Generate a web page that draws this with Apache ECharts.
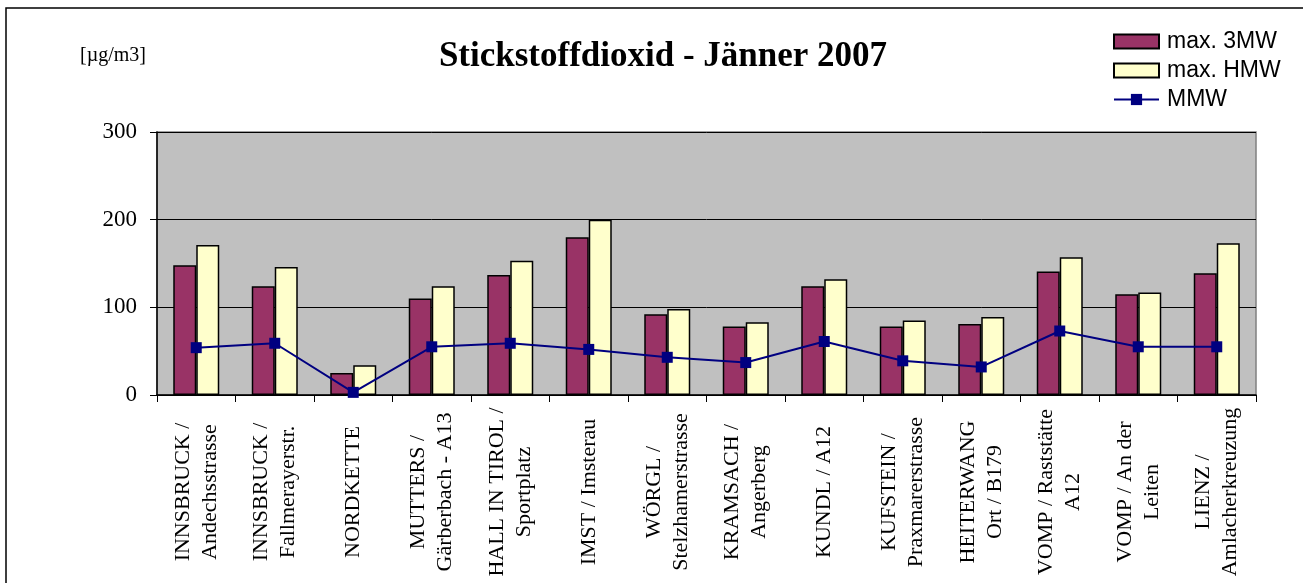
<!DOCTYPE html>
<html>
<head>
<meta charset="utf-8">
<script src="https://cdn.jsdelivr.net/npm/echarts@6/dist/echarts.min.js"></script>
<style>
  html, body { margin: 0; padding: 0; background: #fff; }
  #chart { width: 1303px; height: 583px; }
</style>
</head>
<body>
<div id="chart"></div>
<script>
const stations = [
  'INNSBRUCK /\nAndechsstrasse',
  'INNSBRUCK /\nFallmerayerstr.',
  'NORDKETTE',
  'MUTTERS /\nGärberbach - A13',
  'HALL IN TIROL /\nSportplatz',
  'IMST / Imsterau',
  'WÖRGL /\nStelzhamerstrasse',
  'KRAMSACH /\nAngerberg',
  'KUNDL / A12',
  'KUFSTEIN /\nPraxmarerstrasse',
  'HEITERWANG\nOrt / B179',
  'VOMP / Raststätte\nA12',
  'VOMP / An der\nLeiten',
  'LIENZ /\nAmlacherkreuzung'
]
const max3MW = [148, 124, 25, 110, 137, 180, 92, 78, 124, 78, 81, 141, 115, 139]
const maxHMW = [171, 146, 34, 124, 153, 200, 98, 83, 132, 85, 89, 157, 117, 173]
const mmw = [54, 59, 3, 55, 59, 52, 43, 37, 61, 39, 32, 73, 55, 55]
const yTicks = [0, 100, 200, 300]

const serif = '"Liberation Serif", "Times New Roman", serif'
const sans = '"Liberation Sans", Arial, sans-serif'

const chart = echarts.init(document.getElementById('chart'))
chart.setOption({
  animation: false,
  backgroundColor: '#fff',
  title: {
    text: 'Stickstoffdioxid - Jänner 2007',
    left: 658,
    top: 34,
    textAlign: 'center',
    textStyle: { fontFamily: serif, fontSize: 35, fontWeight: 'bold', color: '#000' }
  },
  legend: {
    orient: 'vertical',
    left: 1108,
    top: 25,
    itemWidth: 45,
    itemHeight: 14,
    itemGap: 6,
    textStyle: { fontFamily: sans, fontSize: 23, color: '#000', padding: [0, 0, 0, 3] },
    data: [
      { name: 'max. 3MW', icon: 'rect' },
      { name: 'max. HMW', icon: 'rect' },
      { name: 'MMW' }
    ]
  },
  graphic: [
    {
      type: 'rect',
      shape: { x: 6, y: 8, width: 1320, height: 600 },
      style: { fill: 'none', stroke: '#000', lineWidth: 1.5 },
      silent: true
    },
    {
      type: 'text',
      left: 80,
      top: 46,
      style: { text: '[µg/m3]', font: '20px ' + serif, fill: '#000' }
    }
  ],
  grid: {
    left: 157,
    right: 47,
    top: 132,
    bottom: 188,
    show: true,
    backgroundColor: '#c0c0c0',
    borderColor: '#808080',
    borderWidth: 1.5
  },
  xAxis: {
    type: 'category',
    data: stations,
    axisLine: { lineStyle: { color: '#000', width: 1.5 } },
    axisTick: { show: true, length: 7, lineStyle: { color: '#000' } },
    axisLabel: {
      rotate: 90,
      interval: 0,
      align: 'center',
      verticalAlign: 'middle',
      margin: 97,
      fontFamily: serif,
      fontSize: 22,
      lineHeight: 27,
      color: '#000'
    }
  },
  yAxis: {
    type: 'value',
    min: 0,
    max: 300,
    interval: 100,
    axisLine: { show: true, lineStyle: { color: '#000', width: 1.5 } },
    axisTick: { show: true, length: 7, inside: false, lineStyle: { color: '#000' } },
    axisLabel: {
      margin: 20,
      fontFamily: serif,
      fontSize: 23,
      color: '#000',
      formatter: v => yTicks.includes(v) ? String(v) : ''
    },
    splitLine: { show: true, lineStyle: { color: '#000', width: 1 } }
  },
  series: [
    {
      name: 'max. 3MW',
      type: 'bar',
      data: max3MW,
      barWidth: 23,
      barGap: '0%',
      itemStyle: { color: '#993366', borderColor: '#000', borderWidth: 1.5 }
    },
    {
      name: 'max. HMW',
      type: 'bar',
      data: maxHMW,
      barWidth: 23,
      barGap: '0%',
      itemStyle: { color: '#ffffcc', borderColor: '#000', borderWidth: 1.5 }
    },
    {
      name: 'MMW',
      type: 'line',
      data: mmw,
      symbol: 'rect',
      symbolSize: 11,
      lineStyle: { color: '#000080', width: 2 },
      itemStyle: { color: '#000080' },
      z: 5
    }
  ]
})
</script>
</body>
</html>
